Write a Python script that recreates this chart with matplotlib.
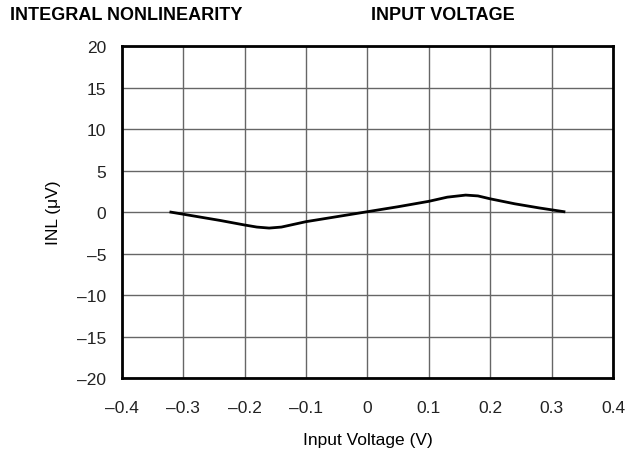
import numpy as np
import matplotlib.pyplot as plt

plt.rcParams['font.family'] = ['Liberation Sans', 'DejaVu Sans']

voltage = [-0.32, -0.28, -0.24, -0.2, -0.18, -0.16, -0.14, -0.1, -0.05, 0.0,
           0.05, 0.1, 0.13, 0.16, 0.18, 0.2, 0.24, 0.28, 0.32]
inl = [0.0, -0.5, -1.0, -1.55, -1.8, -1.92, -1.8, -1.15, -0.55, 0.05,
       0.65, 1.3, 1.8, 2.05, 1.95, 1.6, 1.0, 0.5, 0.05]
xticks = [-0.4, -0.3, -0.2, -0.1, 0, 0.1, 0.2, 0.3, 0.4]
yticks = [-20, -15, -10, -5, 0, 5, 10, 15, 20]

def lab(v):
    s = ("%g" % v)
    return s.replace("-", "\u2013")

fig = plt.figure(figsize=(6.34, 4.52), dpi=100)
ax = fig.add_axes([0.192, 0.161, 0.775, 0.735])
ax.plot(voltage, inl, color="black", lw=2)
ax.set_xlim(-0.4, 0.4)
ax.set_ylim(-20, 20)
ax.set_xticks(xticks)
ax.set_xticklabels([lab(v) for v in xticks])
ax.set_yticks(yticks)
ax.set_yticklabels([lab(v) for v in yticks])
ax.grid(True, color="#666666", lw=1)
ax.tick_params(length=0, labelsize=12.5, colors="#222222")
ax.tick_params(axis="x", pad=16)
ax.tick_params(axis="y", pad=11)
for s in ax.spines.values():
    s.set_linewidth(2)
ax.set_xlabel("Input Voltage (V)", fontsize=12.5, labelpad=12)
ax.set_ylabel("INL (\u03bcV)", fontsize=12.5, labelpad=12)

fig.text(0.015, 0.965, "INTEGRAL NONLINEARITY", fontsize=13, fontweight="bold", va="center")
fig.text(0.585, 0.965, "INPUT VOLTAGE", fontsize=13, fontweight="bold", va="center")

fig.savefig("out.png", dpi=100)
